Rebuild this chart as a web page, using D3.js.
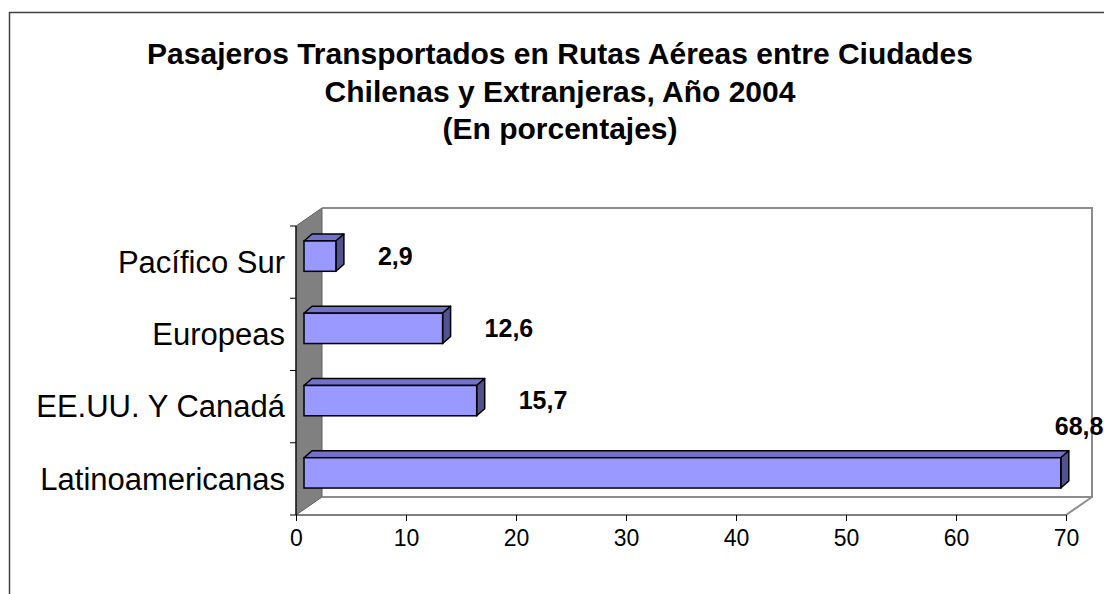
<!DOCTYPE html>
<html>
<head>
<meta charset="utf-8">
<script src="https://cdn.jsdelivr.net/npm/d3@7"></script>
<style>
    body { margin: 0; background: #fff; }
    svg { display: block; font-family: "Liberation Sans", Arial, sans-serif; }
</style>
</head>
<body>
<svg id="chart" width="1104" height="594"></svg>
<script>
/***************************************************************
    Data
****************************************************************/
const titleLines = [
    "Pasajeros Transportados en Rutas Aéreas entre Ciudades",
    "Chilenas y Extranjeras, Año 2004",
    "(En porcentajes)"
];
const categories = ["Pacífico Sur", "Europeas", "EE.UU. Y Canadá", "Latinoamericanas"];
const values = [2.9, 12.6, 15.7, 68.8];
const valueLabels = ["2,9", "12,6", "15,7", "68,8"];
const xTicks = [0, 10, 20, 30, 40, 50, 60, 70];

/***************************************************************
    Layout
****************************************************************/
const width = 1104, height = 594;
const plot = { left: 296, right: 1066, top: 226, bottom: 515 };
const depth = { x: 26, y: -18 };      // offset of the back wall
const barOff = { x: 8, y: -6 };       // bar front face offset from front plane
const barDepth = { x: 8, y: -7 };     // bar thickness in depth

const svg = d3.select("#chart");

const x = d3.scaleLinear().domain([0, 70]).range([plot.left, plot.right]);
const y = d3.scaleBand().domain(categories).range([plot.top, plot.bottom]).padding(0);
const barH = y.bandwidth() * 0.42;

// outer frame (cut off at right and bottom in the original)
svg.append("path")
    .attr("d", `M9.5,${height + 5} L9.5,12.5 L${width + 5},12.5`)
    .attr("fill", "none").attr("stroke", "#404040").attr("stroke-width", 1.5);

// title
svg.append("g").selectAll("text").data(titleLines).enter().append("text")
    .attr("x", 560)
    .attr("y", (d, i) => 64 + i * 37.5)
    .attr("text-anchor", "middle")
    .attr("font-size", 30).attr("font-weight", "bold")
    .text(d => d);

/***************************************************************
    3D frame
****************************************************************/
const L = plot.left, R = plot.right, T = plot.top, B = plot.bottom;
const dx = depth.x, dy = depth.y;

// left wall
svg.append("path")
    .attr("d", `M${L},${T} L${L + dx},${T + dy} L${L + dx},${B + dy} L${L},${B} Z`)
    .attr("fill", "#808080").attr("stroke", "#606060").attr("stroke-width", 1);

// back wall outline and floor
svg.append("path")
    .attr("d", `M${L + dx},${T + dy} L${R + dx},${T + dy} L${R + dx},${B + dy} L${L + dx},${B + dy}`)
    .attr("fill", "none").attr("stroke", "#8c8c8c").attr("stroke-width", 2);
svg.append("path")
    .attr("d", `M${R + dx},${B + dy} L${R},${B}`)
    .attr("fill", "none").attr("stroke", "#8c8c8c").attr("stroke-width", 2);

/***************************************************************
    Axes
****************************************************************/
svg.append("g")
    .attr("transform", `translate(0,${B})`)
    .call(d3.axisBottom(x).tickValues(xTicks).tickSize(6).tickPadding(9).tickFormat(d3.format("d")))
    .call(g => g.select(".domain").attr("stroke", "#000").attr("stroke-width", 1.2).attr("d", `M${L},0H${R}`))
    .call(g => g.selectAll("line").attr("stroke", "#000"))
    .call(g => g.selectAll("text").attr("font-size", 23).attr("font-family", "Liberation Sans, Arial").attr("fill", "#000"));

const yTickPos = categories.map(c => y(c)).concat([B]);
svg.append("g").selectAll("line").data(yTickPos).enter().append("line")
    .attr("x1", L - 6).attr("x2", L)
    .attr("y1", d => d).attr("y2", d => d)
    .attr("stroke", "#000");
svg.append("line")
    .attr("x1", L).attr("x2", L).attr("y1", T).attr("y2", B)
    .attr("stroke", "#000").attr("stroke-width", 1.2);

svg.append("g").selectAll("text").data(categories).enter().append("text")
    .attr("x", 285)
    .attr("y", d => y(d) + y.bandwidth() / 2)
    .attr("dy", "0.35em")
    .attr("text-anchor", "end")
    .attr("font-size", 31)
    .text(d => d);

/***************************************************************
    Bars
****************************************************************/
const bars = svg.append("g").selectAll("g").data(categories).enter().append("g");

function frontBox(c, i) {
    const x0 = x(0) + barOff.x, x1 = x(values[i]) + barOff.x;
    const yc = y(c) + y.bandwidth() / 2 + barOff.y;
    return { x0, x1, y0: yc - barH / 2, y1: yc + barH / 2 };
}

// top face
bars.append("path")
    .attr("d", (c, i) => {
        const b = frontBox(c, i);
        return `M${b.x0},${b.y0} L${b.x0 + barDepth.x},${b.y0 + barDepth.y} L${b.x1 + barDepth.x},${b.y0 + barDepth.y} L${b.x1},${b.y0} Z`;
    })
    .attr("fill", "#7272C8").attr("stroke", "#000").attr("stroke-width", 1.5).attr("stroke-linejoin", "round");
// side face
bars.append("path")
    .attr("d", (c, i) => {
        const b = frontBox(c, i);
        return `M${b.x1},${b.y0} L${b.x1 + barDepth.x},${b.y0 + barDepth.y} L${b.x1 + barDepth.x},${b.y1 + barDepth.y} L${b.x1},${b.y1} Z`;
    })
    .attr("fill", "#52528F").attr("stroke", "#000").attr("stroke-width", 1.5).attr("stroke-linejoin", "round");
// front face
bars.append("rect")
    .attr("x", (c, i) => frontBox(c, i).x0)
    .attr("y", (c, i) => frontBox(c, i).y0)
    .attr("width", (c, i) => frontBox(c, i).x1 - frontBox(c, i).x0)
    .attr("height", barH)
    .attr("fill", "#9999FF").attr("stroke", "#000").attr("stroke-width", 1.5);

// value labels: to the right of the bar, or above it if there is no room
bars.append("text")
    .attr("font-size", 25).attr("font-weight", "bold")
    .each(function (c, i) {
        const b = frontBox(c, i);
        const sx = b.x1 + barDepth.x + 34;
        const t = d3.select(this).text(valueLabels[i]);
        if (sx + 50 > R + dx) {
            t.attr("x", b.x1 - 6).attr("y", b.y0 - 23);
        } else {
            t.attr("x", sx).attr("y", (b.y0 + b.y1) / 2).attr("dy", "0.35em");
        }
    });
</script>
</body>
</html>
